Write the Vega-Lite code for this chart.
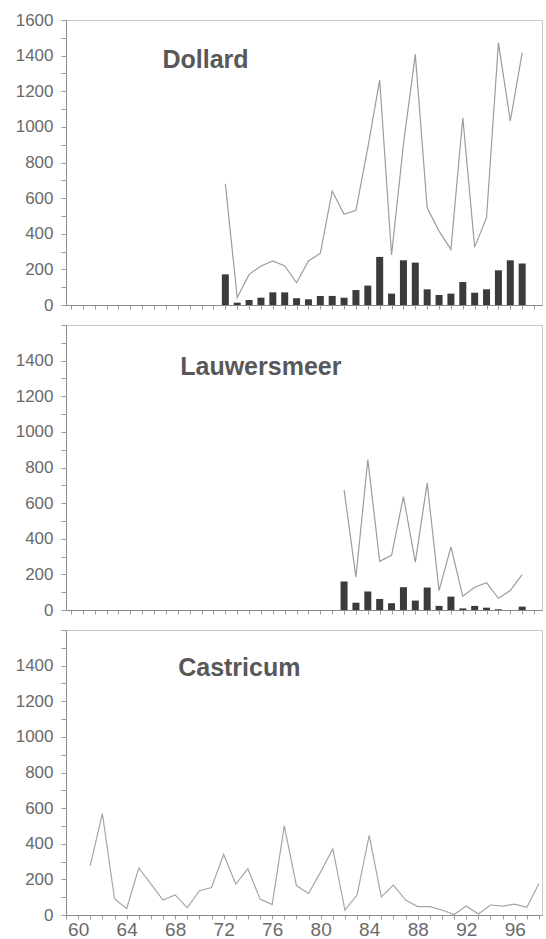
{
  "$schema": "https://vega.github.io/schema/vega-lite/v6.json",
  "autosize": {"type": "pad"},
  "padding": {"left": 14, "top": 10, "right": 0, "bottom": 0},
  "background": "white",
  "spacing": 20,
  "bounds": "flush",
  "config": {
    "font": "Liberation Sans",
    "view": {"stroke": "#c8c8c8", "strokeWidth": 1},
    "axis": {"grid": false, "title": null, "domainColor": "#8a8a8a", "tickColor": "#9a9a9a", "labelColor": "#6a6a6a", "labelFont": "Liberation Sans", "labelOverlap": false, "labelBound": false, "labelFlush": false},
    "axisX": {"tickSize": 4, "labelFontSize": 19, "labelPadding": 1},
    "axisY": {"format": "d", "labelFontSize": 17, "tickSize": 5, "labelPadding": 8}
  },
  "datasets": {
    "lines": [
      {"site": "Dollard", "year": 72, "value": 681},
      {"site": "Dollard", "year": 73, "value": 41},
      {"site": "Dollard", "year": 74, "value": 172},
      {"site": "Dollard", "year": 75, "value": 219},
      {"site": "Dollard", "year": 76, "value": 247},
      {"site": "Dollard", "year": 77, "value": 219},
      {"site": "Dollard", "year": 78, "value": 125},
      {"site": "Dollard", "year": 79, "value": 247},
      {"site": "Dollard", "year": 80, "value": 290},
      {"site": "Dollard", "year": 81, "value": 640},
      {"site": "Dollard", "year": 82, "value": 509},
      {"site": "Dollard", "year": 83, "value": 531},
      {"site": "Dollard", "year": 84, "value": 883},
      {"site": "Dollard", "year": 85, "value": 1263},
      {"site": "Dollard", "year": 86, "value": 281},
      {"site": "Dollard", "year": 87, "value": 902},
      {"site": "Dollard", "year": 88, "value": 1407},
      {"site": "Dollard", "year": 89, "value": 546},
      {"site": "Dollard", "year": 90, "value": 415},
      {"site": "Dollard", "year": 91, "value": 312},
      {"site": "Dollard", "year": 92, "value": 1051},
      {"site": "Dollard", "year": 93, "value": 325},
      {"site": "Dollard", "year": 94, "value": 490},
      {"site": "Dollard", "year": 95, "value": 1472},
      {"site": "Dollard", "year": 96, "value": 1033},
      {"site": "Dollard", "year": 97, "value": 1416},
      {"site": "Lauwersmeer", "year": 82, "value": 674},
      {"site": "Lauwersmeer", "year": 83, "value": 185},
      {"site": "Lauwersmeer", "year": 84, "value": 844},
      {"site": "Lauwersmeer", "year": 85, "value": 273},
      {"site": "Lauwersmeer", "year": 86, "value": 307},
      {"site": "Lauwersmeer", "year": 87, "value": 637},
      {"site": "Lauwersmeer", "year": 88, "value": 269},
      {"site": "Lauwersmeer", "year": 89, "value": 712},
      {"site": "Lauwersmeer", "year": 90, "value": 109},
      {"site": "Lauwersmeer", "year": 91, "value": 354},
      {"site": "Lauwersmeer", "year": 92, "value": 77},
      {"site": "Lauwersmeer", "year": 93, "value": 128},
      {"site": "Lauwersmeer", "year": 94, "value": 153},
      {"site": "Lauwersmeer", "year": 95, "value": 66},
      {"site": "Lauwersmeer", "year": 96, "value": 109},
      {"site": "Lauwersmeer", "year": 97, "value": 198},
      {"site": "Castricum", "year": 61, "value": 277},
      {"site": "Castricum", "year": 62, "value": 570},
      {"site": "Castricum", "year": 63, "value": 91},
      {"site": "Castricum", "year": 64, "value": 35},
      {"site": "Castricum", "year": 65, "value": 264},
      {"site": "Castricum", "year": 66, "value": 175},
      {"site": "Castricum", "year": 67, "value": 84},
      {"site": "Castricum", "year": 68, "value": 113},
      {"site": "Castricum", "year": 69, "value": 40},
      {"site": "Castricum", "year": 70, "value": 136},
      {"site": "Castricum", "year": 71, "value": 154},
      {"site": "Castricum", "year": 72, "value": 340},
      {"site": "Castricum", "year": 73, "value": 173},
      {"site": "Castricum", "year": 74, "value": 260},
      {"site": "Castricum", "year": 75, "value": 89},
      {"site": "Castricum", "year": 76, "value": 58},
      {"site": "Castricum", "year": 77, "value": 500},
      {"site": "Castricum", "year": 78, "value": 165},
      {"site": "Castricum", "year": 79, "value": 121},
      {"site": "Castricum", "year": 80, "value": 242},
      {"site": "Castricum", "year": 81, "value": 372},
      {"site": "Castricum", "year": 82, "value": 28},
      {"site": "Castricum", "year": 83, "value": 112},
      {"site": "Castricum", "year": 84, "value": 447},
      {"site": "Castricum", "year": 85, "value": 102},
      {"site": "Castricum", "year": 86, "value": 168},
      {"site": "Castricum", "year": 87, "value": 84},
      {"site": "Castricum", "year": 88, "value": 47},
      {"site": "Castricum", "year": 89, "value": 47},
      {"site": "Castricum", "year": 90, "value": 28},
      {"site": "Castricum", "year": 91, "value": 3},
      {"site": "Castricum", "year": 92, "value": 50},
      {"site": "Castricum", "year": 93, "value": 6},
      {"site": "Castricum", "year": 94, "value": 56},
      {"site": "Castricum", "year": 95, "value": 50},
      {"site": "Castricum", "year": 96, "value": 61},
      {"site": "Castricum", "year": 97, "value": 43},
      {"site": "Castricum", "year": 98, "value": 177}
    ],
    "bars": [
      {"site": "Dollard", "year": 72, "value": 172},
      {"site": "Dollard", "year": 73, "value": 13},
      {"site": "Dollard", "year": 74, "value": 28},
      {"site": "Dollard", "year": 75, "value": 41},
      {"site": "Dollard", "year": 76, "value": 71},
      {"site": "Dollard", "year": 77, "value": 71},
      {"site": "Dollard", "year": 78, "value": 38},
      {"site": "Dollard", "year": 79, "value": 32},
      {"site": "Dollard", "year": 80, "value": 51},
      {"site": "Dollard", "year": 81, "value": 51},
      {"site": "Dollard", "year": 82, "value": 41},
      {"site": "Dollard", "year": 83, "value": 84},
      {"site": "Dollard", "year": 84, "value": 109},
      {"site": "Dollard", "year": 85, "value": 270},
      {"site": "Dollard", "year": 86, "value": 64},
      {"site": "Dollard", "year": 87, "value": 251},
      {"site": "Dollard", "year": 88, "value": 238},
      {"site": "Dollard", "year": 89, "value": 88},
      {"site": "Dollard", "year": 90, "value": 56},
      {"site": "Dollard", "year": 91, "value": 64},
      {"site": "Dollard", "year": 92, "value": 129},
      {"site": "Dollard", "year": 93, "value": 69},
      {"site": "Dollard", "year": 94, "value": 88},
      {"site": "Dollard", "year": 95, "value": 195},
      {"site": "Dollard", "year": 96, "value": 251},
      {"site": "Dollard", "year": 97, "value": 233},
      {"site": "Lauwersmeer", "year": 82, "value": 160},
      {"site": "Lauwersmeer", "year": 83, "value": 41},
      {"site": "Lauwersmeer", "year": 84, "value": 104},
      {"site": "Lauwersmeer", "year": 85, "value": 62},
      {"site": "Lauwersmeer", "year": 86, "value": 38},
      {"site": "Lauwersmeer", "year": 87, "value": 128},
      {"site": "Lauwersmeer", "year": 88, "value": 53},
      {"site": "Lauwersmeer", "year": 89, "value": 126},
      {"site": "Lauwersmeer", "year": 90, "value": 23},
      {"site": "Lauwersmeer", "year": 91, "value": 75},
      {"site": "Lauwersmeer", "year": 92, "value": 9},
      {"site": "Lauwersmeer", "year": 93, "value": 23},
      {"site": "Lauwersmeer", "year": 94, "value": 13},
      {"site": "Lauwersmeer", "year": 95, "value": 4},
      {"site": "Lauwersmeer", "year": 96, "value": 0},
      {"site": "Lauwersmeer", "year": 97, "value": 19}
    ],
    "titles": [
      {"site": "Dollard", "label": "Dollard"},
      {"site": "Lauwersmeer", "label": "Lauwersmeer"},
      {"site": "Castricum", "label": "Castricum"}
    ]
  },
  "vconcat": [
    {
      "width": 476, "height": 285,
      "layer": [
        {
          "data": {"name": "lines"},
          "transform": [{"filter": "datum.site == 'Dollard'"}],
          "mark": {"type": "line", "color": "#9c9c9c", "strokeWidth": 1.2},
          "encoding": {
            "x": {"field": "year", "type": "quantitative", "scale": {"domain": [59, 98.25], "nice": false, "zero": false}, "axis": {"labels": false, "values": [59,60,61,62,63,64,65,66,67,68,69,70,71,72,73,74,75,76,77,78,79,80,81,82,83,84,85,86,87,88,89,90,91,92,93,94,95,96,97,98]}},
            "y": {"field": "value", "type": "quantitative", "scale": {"domain": [0, 1600], "nice": false}, "axis": {"values": [0,100,200,300,400,500,600,700,800,900,1000,1100,1200,1300,1400,1500,1600], "labelExpr": "datum.value % 200 == 0 ? datum.label : ''"}}
          }
        },
        {
          "data": {"name": "bars"},
          "transform": [{"filter": "datum.site == 'Dollard'"}],
          "mark": {"type": "bar", "color": "#3b3b3b", "width": 7},
          "encoding": {
            "x": {"field": "year", "type": "quantitative", "scale": {"domain": [59, 98.25], "nice": false, "zero": false}, "axis": {"labels": false, "values": [59,60,61,62,63,64,65,66,67,68,69,70,71,72,73,74,75,76,77,78,79,80,81,82,83,84,85,86,87,88,89,90,91,92,93,94,95,96,97,98]}},
            "y": {"field": "value", "type": "quantitative", "scale": {"domain": [0, 1600], "nice": false}, "axis": {"values": [0,100,200,300,400,500,600,700,800,900,1000,1100,1200,1300,1400,1500,1600], "labelExpr": "datum.value % 200 == 0 ? datum.label : ''"}}
          }
        },
        {
          "data": {"name": "titles"},
          "transform": [{"filter": "datum.site == 'Dollard'"}],
          "mark": {"type": "text", "fontSize": 25, "fontWeight": "bold", "fill": "#585858", "align": "left", "baseline": "alphabetic"},
          "encoding": {
            "text": {"field": "label", "type": "nominal"},
            "x": {"datum": 66.7, "type": "quantitative", "scale": {"domain": [59, 98.25], "nice": false, "zero": false}, "axis": {"labels": false, "values": [59,60,61,62,63,64,65,66,67,68,69,70,71,72,73,74,75,76,77,78,79,80,81,82,83,84,85,86,87,88,89,90,91,92,93,94,95,96,97,98]}},
            "y": {"datum": 1330, "type": "quantitative", "scale": {"domain": [0, 1600], "nice": false}, "axis": {"values": [0,100,200,300,400,500,600,700,800,900,1000,1100,1200,1300,1400,1500,1600], "labelExpr": "datum.value % 200 == 0 ? datum.label : ''"}}
          }
        }
      ]
    },
    {
      "width": 476, "height": 285,
      "layer": [
        {
          "data": {"name": "lines"},
          "transform": [{"filter": "datum.site == 'Lauwersmeer'"}],
          "mark": {"type": "line", "color": "#9c9c9c", "strokeWidth": 1.2},
          "encoding": {
            "x": {"field": "year", "type": "quantitative", "scale": {"domain": [59, 98.25], "nice": false, "zero": false}, "axis": {"labels": false, "values": [59,60,61,62,63,64,65,66,67,68,69,70,71,72,73,74,75,76,77,78,79,80,81,82,83,84,85,86,87,88,89,90,91,92,93,94,95,96,97,98]}},
            "y": {"field": "value", "type": "quantitative", "scale": {"domain": [0, 1600], "nice": false}, "axis": {"values": [0,100,200,300,400,500,600,700,800,900,1000,1100,1200,1300,1400,1500,1600], "labelExpr": "datum.value % 200 == 0 && datum.value < 1600 ? datum.label : ''"}}
          }
        },
        {
          "data": {"name": "bars"},
          "transform": [{"filter": "datum.site == 'Lauwersmeer'"}],
          "mark": {"type": "bar", "color": "#3b3b3b", "width": 7},
          "encoding": {
            "x": {"field": "year", "type": "quantitative", "scale": {"domain": [59, 98.25], "nice": false, "zero": false}, "axis": {"labels": false, "values": [59,60,61,62,63,64,65,66,67,68,69,70,71,72,73,74,75,76,77,78,79,80,81,82,83,84,85,86,87,88,89,90,91,92,93,94,95,96,97,98]}},
            "y": {"field": "value", "type": "quantitative", "scale": {"domain": [0, 1600], "nice": false}, "axis": {"values": [0,100,200,300,400,500,600,700,800,900,1000,1100,1200,1300,1400,1500,1600], "labelExpr": "datum.value % 200 == 0 && datum.value < 1600 ? datum.label : ''"}}
          }
        },
        {
          "data": {"name": "titles"},
          "transform": [{"filter": "datum.site == 'Lauwersmeer'"}],
          "mark": {"type": "text", "fontSize": 25, "fontWeight": "bold", "fill": "#585858", "align": "left", "baseline": "alphabetic"},
          "encoding": {
            "text": {"field": "label", "type": "nominal"},
            "x": {"datum": 68.2, "type": "quantitative", "scale": {"domain": [59, 98.25], "nice": false, "zero": false}, "axis": {"labels": false, "values": [59,60,61,62,63,64,65,66,67,68,69,70,71,72,73,74,75,76,77,78,79,80,81,82,83,84,85,86,87,88,89,90,91,92,93,94,95,96,97,98]}},
            "y": {"datum": 1321, "type": "quantitative", "scale": {"domain": [0, 1600], "nice": false}, "axis": {"values": [0,100,200,300,400,500,600,700,800,900,1000,1100,1200,1300,1400,1500,1600], "labelExpr": "datum.value % 200 == 0 && datum.value < 1600 ? datum.label : ''"}}
          }
        }
      ]
    },
    {
      "width": 476, "height": 285,
      "layer": [
        {
          "data": {"name": "lines"},
          "transform": [{"filter": "datum.site == 'Castricum'"}],
          "mark": {"type": "line", "color": "#a2a8a2", "strokeWidth": 1.2},
          "encoding": {
            "x": {"field": "year", "type": "quantitative", "scale": {"domain": [59, 98.25], "nice": false, "zero": false}, "axis": {"values": [59,60,61,62,63,64,65,66,67,68,69,70,71,72,73,74,75,76,77,78,79,80,81,82,83,84,85,86,87,88,89,90,91,92,93,94,95,96,97,98], "labelExpr": "datum.value % 4 == 0 ? datum.label : ''"}},
            "y": {"field": "value", "type": "quantitative", "scale": {"domain": [0, 1600], "nice": false}, "axis": {"values": [0,100,200,300,400,500,600,700,800,900,1000,1100,1200,1300,1400,1500,1600], "labelExpr": "datum.value % 200 == 0 && datum.value < 1600 ? datum.label : ''"}}
          }
        },
        {
          "data": {"name": "titles"},
          "transform": [{"filter": "datum.site == 'Castricum'"}],
          "mark": {"type": "text", "fontSize": 25, "fontWeight": "bold", "fill": "#585858", "align": "left", "baseline": "alphabetic"},
          "encoding": {
            "text": {"field": "label", "type": "nominal"},
            "x": {"datum": 68.25, "type": "quantitative", "scale": {"domain": [59, 98.25], "nice": false, "zero": false}, "axis": {"values": [59,60,61,62,63,64,65,66,67,68,69,70,71,72,73,74,75,76,77,78,79,80,81,82,83,84,85,86,87,88,89,90,91,92,93,94,95,96,97,98], "labelExpr": "datum.value % 4 == 0 ? datum.label : ''"}},
            "y": {"datum": 1341, "type": "quantitative", "scale": {"domain": [0, 1600], "nice": false}, "axis": {"values": [0,100,200,300,400,500,600,700,800,900,1000,1100,1200,1300,1400,1500,1600], "labelExpr": "datum.value % 200 == 0 && datum.value < 1600 ? datum.label : ''"}}
          }
        }
      ]
    }
  ]
}
